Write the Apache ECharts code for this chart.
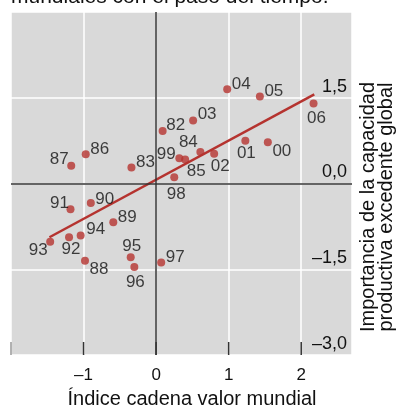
<!DOCTYPE html>
<html>
<head>
<meta charset="utf-8">
<script src="https://cdn.jsdelivr.net/npm/echarts@6/dist/echarts.min.js"></script>
<style>
  html, body { margin: 0; padding: 0; background: #fff; }
  #main { width: 396px; height: 410px; }
</style>
</head>
<body>
<div id="main"></div>
<script>
// años (etiquetas de los puntos)
var years = ['82','83','84','85','86','87','88','89','90','91','92','93','94',
             '95','96','97','98','99','00','01','02','03','04','05','06'];
// Índice cadena valor mundial
var xVals = [0.09,-0.34,0.61,0.40,-0.97,-1.17,-0.98,-0.59,-0.90,-1.18,-1.20,-1.46,-1.04,
             -0.35,-0.30,0.07,0.25,0.32,1.54,1.23,0.80,0.51,0.98,1.43,2.17];
// Importancia de la capacidad productiva excedente global
var yVals = [0.92,0.28,0.55,0.42,0.51,0.31,-1.35,-0.68,-0.34,-0.45,-0.94,-1.02,-0.91,
             -1.29,-1.46,-1.38,0.11,0.44,0.72,0.75,0.52,1.10,1.65,1.52,1.40];
// recta de regresión (extremos)
var trendX = [-1.47, 2.18];
var trendY = [-0.94, 1.56];
var xTicks = [-2, -1, 0, 1, 2];
var yTicks = [-3, -1.5, 0, 1.5];

// posición de cada etiqueta respecto a su punto (px)
var labelOffset = {
  '82':[13,-6],'83':[14,-5],'84':[-12,-10],'85':[11,12],'86':[14,-5],'87':[-12,-6],
  '88':[14,9],'89':[14,-5],'90':[14,-4],'91':[-11,-6],'92':[2,12],'93':[-12,9],
  '94':[15,-6],'95':[1,-11],'96':[1,15],'97':[14,-5],'98':[2,17],'99':[-13,-4],
  '00':[14,9],'01':[1,13],'02':[6,13],'03':[14,-6],'04':[14,-5],'05':[14,-5],'06':[3,15]
};

var red = '#b5332f';
var ink = '#111';
var font = 'Liberation Sans, Arial, sans-serif';
var xMin = -2, yMin = -3;

var points = years.map(function (y, i) {
  return {
    value: [xVals[i], yVals[i]],
    label: { offset: labelOffset[y] }
  };
});
var trend = trendX.map(function (x, i) { return [x, trendY[i]]; });

function fmt(v, dec) {
  var s = Math.abs(v).toFixed(dec).replace('.', ',');
  return (v < 0 ? '\u2013' : '') + s;
}

var chart = echarts.init(document.getElementById('main'));
chart.setOption({
  animation: false,
  grid: {
    left: 11, right: 44, top: 12, bottom: 55,
    show: true, backgroundColor: '#d9d9d9', borderWidth: 0
  },
  xAxis: {
    type: 'value', min: xMin, max: 2.7, interval: 1,
    axisLine: { show: false, onZero: false },
    axisTick: { show: false },
    splitLine: { show: true, lineStyle: { color: '#fff', width: 1.5 } },
    axisLabel: {
      margin: 12, fontSize: 17, color: ink, fontFamily: font,
      showMaxLabel: false, showMinLabel: false,
      formatter: function (v) { return (v > xMin && xTicks.indexOf(v) >= 0) ? fmt(v, 0) : ''; }
    }
  },
  yAxis: {
    type: 'value', position: 'right', min: yMin, max: 3, interval: 1.5,
    axisLine: { show: false, onZero: false },
    axisTick: { show: false },
    splitLine: { show: true, lineStyle: { color: '#fff', width: 1.5 } },
    axisLabel: {
      inside: true, margin: 5, fontSize: 18, color: ink, fontFamily: font,
      verticalAlign: 'bottom', padding: [0, 0, 2, 0],
      formatter: function (v) { return yTicks.indexOf(v) >= 0 ? fmt(v, 1) : ''; }
    }
  },
  series: [
    {
      // marcas de graduación hacia dentro, en el borde inferior
      type: 'custom',
      data: xTicks,
      silent: true,
      z: 2,
      renderItem: function (params, api) {
        var p = api.coord([api.value(0), yMin]);
        return {
          type: 'line',
          shape: { x1: p[0], y1: p[1], x2: p[0], y2: p[1] - 13 },
          style: { stroke: api.value(0) === xMin ? '#999' : '#333', lineWidth: 1.5 }
        };
      }
    },
    {
      type: 'line',
      data: trend,
      symbol: 'none',
      lineStyle: { color: red, width: 2.5 },
      z: 3,
      markLine: {
        silent: true, symbol: 'none', label: { show: false },
        lineStyle: { color: '#333', width: 1.5, type: 'solid' },
        data: [{ xAxis: 0 }, { yAxis: 0 }]
      }
    },
    {
      type: 'scatter',
      data: points,
      symbolSize: 8,
      itemStyle: { color: red },
      z: 4,
      label: {
        show: true, position: 'inside',
        fontSize: 17, color: ink, fontFamily: font,
        formatter: function (p) { return years[p.dataIndex]; }
      }
    }
  ],
  graphic: [
    {
      type: 'text', x: 11, y: -13,
      style: { text: 'mundiales con el paso del tiempo.', fontSize: 21, fill: ink, fontFamily: font }
    },
    {
      type: 'text', x: 192, y: 399,
      style: { text: '\u00cdndice cadena valor mundial', fontSize: 20, fill: ink, fontFamily: font,
               align: 'center', verticalAlign: 'middle' }
    },
    {
      type: 'text', x: 377, y: 207, rotation: Math.PI / 2,
      style: { text: 'Importancia de la capacidad\nproductiva excedente global', fontSize: 20, lineHeight: 18,
               fill: ink, fontFamily: font, align: 'center', verticalAlign: 'middle' }
    }
  ]
});
</script>
</body>
</html>
